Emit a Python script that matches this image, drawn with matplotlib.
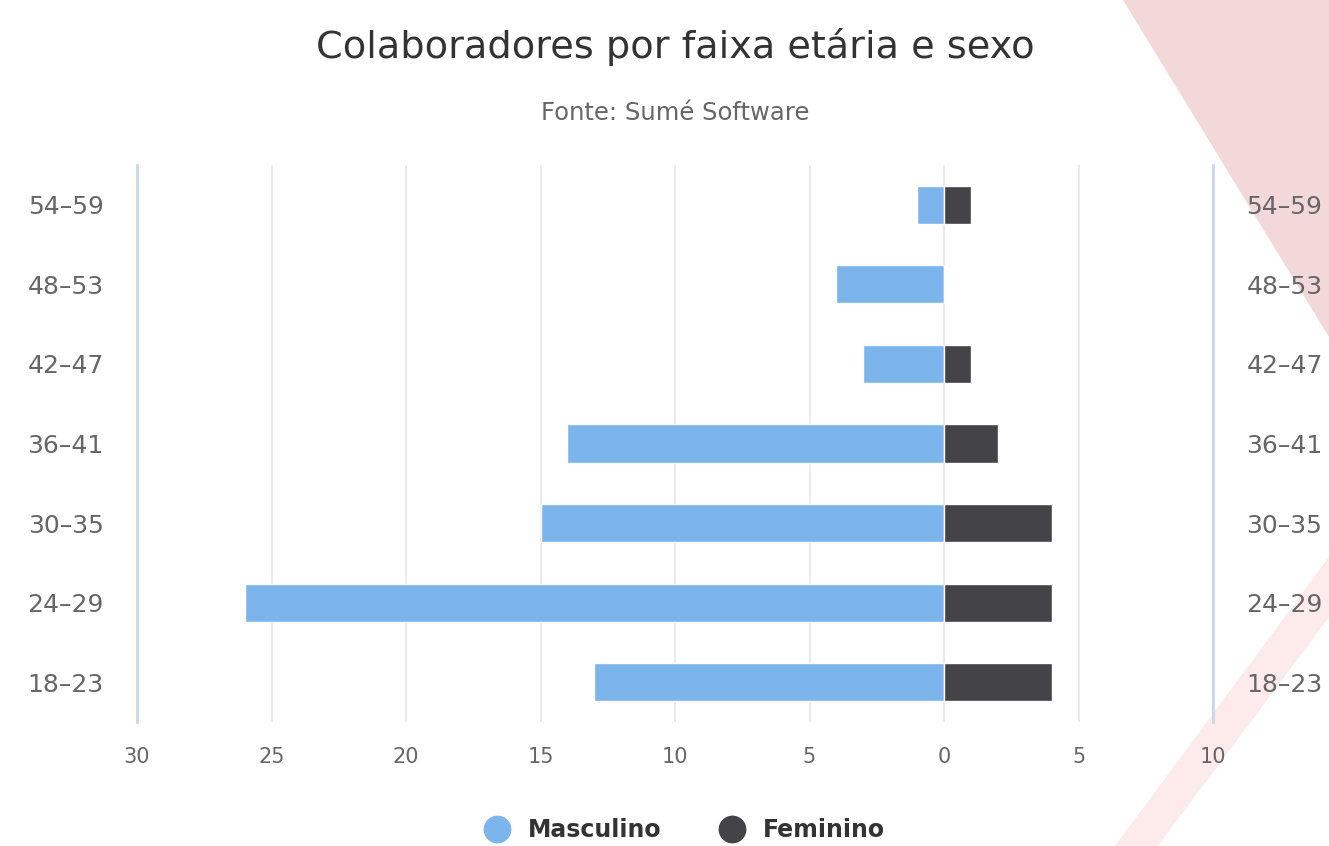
import matplotlib
matplotlib.use("Agg")
import matplotlib.pyplot as plt
from matplotlib.patches import Polygon
from matplotlib.lines import Line2D
from matplotlib.ticker import FuncFormatter

# dados
faixas = ["18–23", "24–29", "30–35", "36–41", "42–47", "48–53", "54–59"]
masculino = [13, 26, 15, 14, 3, 4, 1]
feminino = [4, 4, 4, 2, 1, 0, 1]
ticks_x = [-30, -25, -20, -15, -10, -5, 0, 5, 10]

COR_M = "#7cb5ec"
COR_F = "#434348"
W, H = 1329, 846

fig = plt.figure(figsize=(W / 100, H / 100), dpi=100)
fig.patch.set_facecolor("white")

# triângulos decorativos do fundo (coordenadas em pixels)
def px(pts):
    return [(x, H - y) for x, y in pts]

fig.patches.append(Polygon(px([(1123, 0), (1329, 0), (1329, 337)]),
                           closed=True, transform=None, facecolor="#f2d8d9",
                           edgecolor="none", zorder=-5))
fig.patches.append(Polygon(px([(1115, 846), (1158, 846), (1329, 617), (1329, 557)]),
                           closed=True, transform=None, facecolor="#fdeaea",
                           edgecolor="none", zorder=-5))

ax = fig.add_axes([137 / W, (H - 722) / H, (1213 - 137) / W, (722 - 165) / H])
ax.set_facecolor("none")
ax.set_zorder(1)

y = list(range(len(faixas)))
ax.barh(y, [-v for v in masculino], height=0.48, color=COR_M,
        edgecolor="white", linewidth=1, zorder=3)
ax.barh(y, feminino, height=0.48, color=COR_F,
        edgecolor="white", linewidth=1, zorder=3)

ax.set_xlim(-30, 10)
ax.set_ylim(-0.5, len(faixas) - 0.5)
ax.set_xticks(ticks_x)
ax.xaxis.set_major_formatter(FuncFormatter(lambda v, p: f"{abs(int(v))}"))
ax.set_yticks(y)
ax.set_yticklabels(faixas)

ax.tick_params(axis="y", length=0, labelsize=18, labelcolor="#666666",
               labelleft=True, labelright=True, pad=24)
ax.tick_params(axis="x", length=0, labelsize=15, labelcolor="#666666", pad=18)

ax.grid(axis="x", color="#e6e6e6", linewidth=1.2, zorder=0)
for s in ["top", "bottom"]:
    ax.spines[s].set_visible(False)
for s in ["left", "right"]:
    ax.spines[s].set_color("#ccd6eb")
    ax.spines[s].set_linewidth(2)

fig.text(675 / W, 1 - 47 / H, "Colaboradores por faixa etária e sexo",
         ha="center", va="center", fontsize=27.5, color="#333333")
fig.text(675 / W, 1 - 113 / H, "Fonte: Sumé Software",
         ha="center", va="center", fontsize=17.5, color="#666666")

handles = [Line2D([0], [0], marker="o", linestyle="none", markersize=19,
                  markerfacecolor=COR_M, markeredgecolor=COR_M, label="Masculino"),
           Line2D([0], [0], marker="o", linestyle="none", markersize=19,
                  markerfacecolor=COR_F, markeredgecolor=COR_F, label="Feminino")]
leg = fig.legend(handles=handles, loc="center", bbox_to_anchor=(679 / W, 16 / H),
                 ncol=2, frameon=False, handletextpad=0.3, columnspacing=2.0,
                 prop={"size": 17, "weight": "bold"})
for t in leg.get_texts():
    t.set_color("#333333")

fig.savefig("out.png", dpi=100)
